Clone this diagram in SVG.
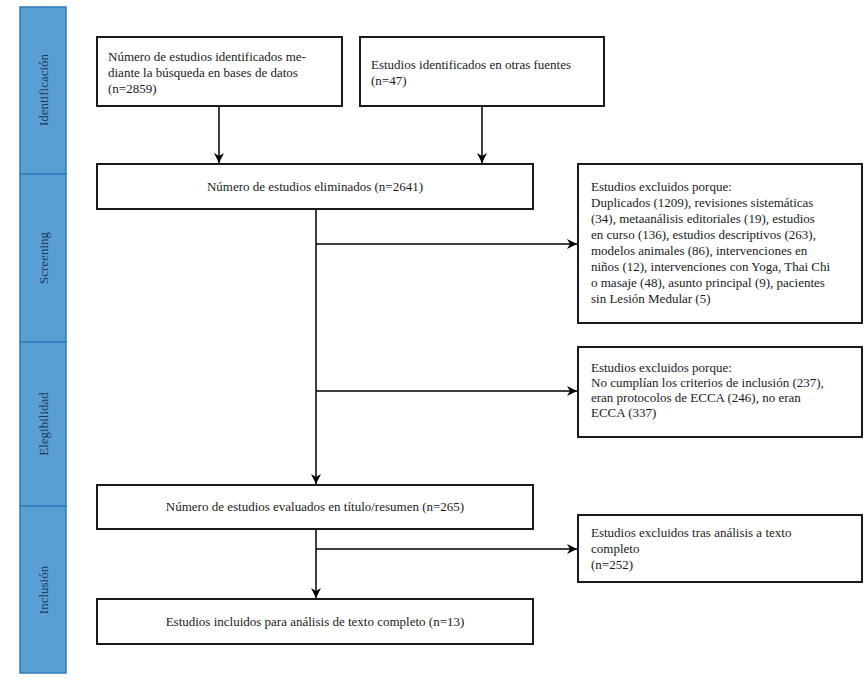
<svg xmlns="http://www.w3.org/2000/svg" width="868" height="682" viewBox="0 0 868 682">
<defs>
<marker id="ah" viewBox="0 0 10 10" refX="10" refY="5" markerWidth="10" markerHeight="10" markerUnits="userSpaceOnUse" orient="auto">
<path d="M0,0 L10,5 L0,10 L3,5 Z" fill="#000"/>
</marker>
<style>
.box{fill:#fff;stroke:#1a1a1a;stroke-width:2}
.t{font-family:"Liberation Serif","Times New Roman",serif;font-size:13px;fill:#1a1a1a}
.c{text-anchor:middle}
.side{fill:#5a9fd4;stroke:#2f7bbf;stroke-width:1.5}
.st{font-family:"Liberation Serif","Times New Roman",serif;font-size:13px;fill:#1b3a5c;text-anchor:middle}
.ln{stroke:#000;stroke-width:1.5;fill:none}
</style>
</defs>
<rect width="868" height="682" fill="#fff"/>
<g id="sidebar">
<rect class="side" x="20" y="7" width="46" height="167"/>
<rect class="side" x="20" y="174" width="46" height="168"/>
<rect class="side" x="20" y="342" width="46" height="164"/>
<rect class="side" x="20" y="506" width="46" height="167"/>
<text class="st" transform="translate(48,90) rotate(-90)">Identificación</text>
<text class="st" transform="translate(48,258) rotate(-90)">Screening</text>
<text class="st" transform="translate(48,424) rotate(-90)">Elegibilidad</text>
<text class="st" transform="translate(48,590) rotate(-90)">Inclusión</text>
</g>
<g id="connectors">
<line class="ln" x1="219" y1="106" x2="219" y2="163" marker-end="url(#ah)"/>
<line class="ln" x1="482" y1="106" x2="482" y2="163" marker-end="url(#ah)"/>
<line class="ln" x1="316" y1="209" x2="316" y2="484" marker-end="url(#ah)"/>
<line class="ln" x1="316" y1="244" x2="577" y2="244" marker-end="url(#ah)"/>
<line class="ln" x1="316" y1="391" x2="577" y2="391" marker-end="url(#ah)"/>
<line class="ln" x1="316" y1="529" x2="316" y2="598" marker-end="url(#ah)"/>
<line class="ln" x1="316" y1="549" x2="577" y2="549" marker-end="url(#ah)"/>
</g>
<g id="n1">
<rect class="box" x="97" y="37" width="245" height="69"/>
<text class="t" x="108" y="61">Número de estudios identificados me-</text>
<text class="t" x="108" y="77">diante la búsqueda en bases de datos</text>
<text class="t" x="108" y="93">(n=2859)</text>
</g>
<g id="n2">
<rect class="box" x="360" y="37" width="244" height="69"/>
<text class="t" x="371" y="69">Estudios identificados en otras fuentes</text>
<text class="t" x="371" y="85">(n=47)</text>
</g>
<g id="n3">
<rect class="box" x="97" y="164" width="436" height="45"/>
<text class="t c" x="315" y="191">Número de estudios eliminados (n=2641)</text>
</g>
<g id="n4">
<rect class="box" x="578" y="164" width="284" height="159"/>
<text class="t" x="591" y="191">Estudios excluidos porque:</text>
<text class="t" x="591" y="207">Duplicados (1209), revisiones sistemáticas</text>
<text class="t" x="591" y="223">(34), metaanálisis editoriales (19), estudios</text>
<text class="t" x="591" y="239">en curso (136), estudios descriptivos (263),</text>
<text class="t" x="591" y="255">modelos animales (86), intervenciones en</text>
<text class="t" x="591" y="271">niños (12), intervenciones con Yoga, Thai Chi</text>
<text class="t" x="591" y="287">o masaje (48), asunto principal (9), pacientes</text>
<text class="t" x="591" y="303">sin Lesión Medular (5)</text>
</g>
<g id="n5">
<rect class="box" x="578" y="347" width="284" height="90"/>
<text class="t" x="591" y="372">Estudios excluidos porque:</text>
<text class="t" x="591" y="387">No cumplían los criterios de inclusión (237),</text>
<text class="t" x="591" y="402">eran protocolos de ECCA (246), no eran</text>
<text class="t" x="591" y="417">ECCA (337)</text>
</g>
<g id="n6">
<rect class="box" x="97" y="485" width="436" height="44"/>
<text class="t c" x="315" y="511">Número de estudios evaluados en título/resumen (n=265)</text>
</g>
<g id="n7">
<rect class="box" x="578" y="515" width="284" height="67"/>
<text class="t" x="591" y="537">Estudios excluidos tras análisis a texto</text>
<text class="t" x="591" y="553">completo</text>
<text class="t" x="591" y="569">(n=252)</text>
</g>
<g id="n8">
<rect class="box" x="97" y="599" width="436" height="45"/>
<text class="t c" x="315" y="626">Estudios incluidos para análisis de texto completo (n=13)</text>
</g>
</svg>
